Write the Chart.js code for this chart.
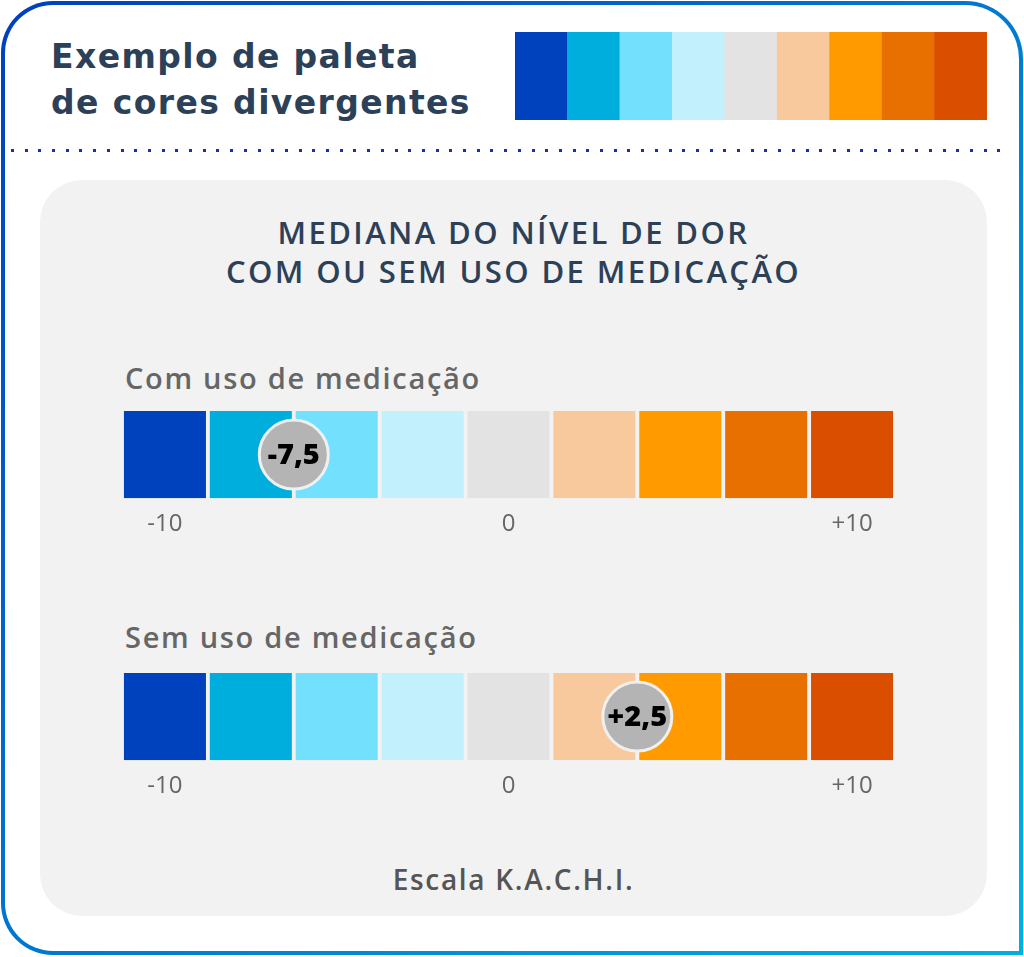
<!DOCTYPE html>
<html lang="pt-BR">
<head>
<meta charset="utf-8">
<title>Paleta divergente</title>
<script src="https://cdn.jsdelivr.net/npm/chart.js@4.4.1/dist/chart.umd.min.js"></script>
<style>
  body { margin: 0; width: 1024px; height: 957px; overflow: hidden; background: #fff; font-family: 'Open Sans', sans-serif; position: relative; }
  .moldura { position: absolute; left: 1px; top: 1px; width: 1014px; height: 946px; border: 4px solid transparent;
    border-radius: 52px 58px 0 52px;
    background: linear-gradient(#fff, #fff) padding-box, linear-gradient(135deg, #0040bd, #00b0e2) border-box; }
  .titulo { position: absolute; left: 51px; top: 34px; font-family: 'DejaVu Sans', sans-serif; font-size: 33px; font-weight: 700; line-height: 46px; color: #2c4058; letter-spacing: 1.4px; }
  .pontilhado { position: absolute; left: 11px; top: 149px; width: 1000px; height: 3px;
    background: repeating-linear-gradient(to right, #1c2bb0 0 3px, transparent 3px 13.7px); }
  .painel { position: absolute; left: 40px; top: 180px; width: 947px; height: 736px; background: #f2f2f2; border-radius: 42px; }
  .subtitulo { position: absolute; left: 40px; width: 947px; top: 213px; text-align: center; font-size: 31px; font-weight: 600; line-height: 39px; color: #2c4058; letter-spacing: 2.4px; }
  .rotulo { position: absolute; left: 125px; font-size: 29px; font-weight: 600; color: #666; line-height: 1; letter-spacing: 1.7px; }
  .rodape { position: absolute; left: 40px; width: 947px; top: 865px; text-align: center; font-size: 28px; font-weight: 600; color: #555; line-height: 1; letter-spacing: 1.7px; }
  .grafico { position: absolute; }
</style>
</head>
<body>
<div class="moldura"></div>
<div class="titulo">Exemplo de paleta<br>de cores divergentes</div>
<div class="grafico" style="left:515px; top:32px; width:472px; height:88px;"><canvas id="paleta"></canvas></div>
<div class="pontilhado"></div>
<div class="painel"></div>
<div class="subtitulo">MEDIANA DO NÍVEL DE DOR<br>COM OU SEM USO DE MEDICAÇÃO</div>
<div class="rotulo" id="rotulo0" style="top:363px;"></div>
<div class="grafico" style="left:122px; top:411px; width:773px; height:140px;"><canvas id="linha0"></canvas></div>
<div class="rotulo" id="rotulo1" style="top:622px;"></div>
<div class="grafico" style="left:122px; top:673px; width:773px; height:140px;"><canvas id="linha1"></canvas></div>
<div class="rodape">Escala K.A.C.H.I.</div>

<script>
// centro de cada célula da escala (de -10 a +10)
const celulas = [-10, -7.5, -5, -2.5, 0, 2.5, 5, 7.5, 10];
const cores = ['#0041be', '#00aede', '#73e0fd', '#c2f0fd', '#e3e3e3', '#f7c99d', '#ff9b00', '#e87000', '#da4e00'];
const marcasEixo = [-10, 0, 10];
const rotulosEixo = ['-10', '0', '+10'];
const grupos = ['Com uso de medicação', 'Sem uso de medicação'];
const medianas = [-7.5, 2.5];
const rotulosMediana = ['-7,5', '+2,5'];
const meiaCelula = 1.25; // a bolinha fica na borda direita da célula

grupos.forEach((g, i) => { document.getElementById('rotulo' + i).textContent = g; });

// escreve o valor dentro da bolinha
const textoMediana = {
  id: 'textoMediana',
  afterDatasetsDraw(chart) {
    chart.data.datasets.forEach((ds, d) => {
      if (!ds.rotulo) return;
      const ctx = chart.ctx;
      ctx.save();
      ctx.font = '800 29px "Open Sans"';
      ctx.fillStyle = '#000';
      ctx.textAlign = 'center';
      ctx.textBaseline = 'middle';
      chart.getDatasetMeta(d).data.forEach(p => ctx.fillText(ds.rotulo, p.x, p.y + 1));
      ctx.restore();
    });
  }
};

function eixoX(mostrar) {
  return {
    type: 'linear', min: -11.25, max: 11.25, offset: false, display: mostrar,
    grid: { display: false, drawTicks: false }, border: { display: false },
    afterBuildTicks: s => { s.ticks = marcasEixo.map(v => ({ value: v })); },
    ticks: {
      padding: 12, color: '#666', font: { family: 'Open Sans', size: 24 },
      callback: v => rotulosEixo[marcasEixo.indexOf(v)]
    }
  };
}

function criarGrafico(id, barPct, mostrarEixo, extra) {
  const datasets = [{
    type: 'bar', order: 2,
    data: celulas.map(c => ({ x: c, y: 1 })),
    backgroundColor: cores,
    barPercentage: barPct, categoryPercentage: 1, borderWidth: 0
  }];
  if (extra) datasets.push(extra);
  return new Chart(document.getElementById(id), {
    type: 'bar',
    data: { datasets },
    options: {
      responsive: true, maintainAspectRatio: false, animation: false,
      layout: { padding: 0, autoPadding: false },
      plugins: { legend: { display: false }, tooltip: { enabled: false } },
      scales: { x: eixoX(mostrarEixo), y: { display: false, min: 0, max: 1 } }
    },
    plugins: [textoMediana]
  });
}

criarGrafico('paleta', 1, false);

medianas.forEach((m, i) => {
  criarGrafico('linha' + i, 0.955, true, {
    type: 'scatter', order: 1, clip: false,
    data: [{ x: m + meiaCelula, y: 0.5 }],
    rotulo: rotulosMediana[i],
    pointRadius: 34.5, pointBackgroundColor: '#b4b4b4', pointBorderColor: '#f0f0f0', pointBorderWidth: 3
  });
});
</script>
</body>
</html>
